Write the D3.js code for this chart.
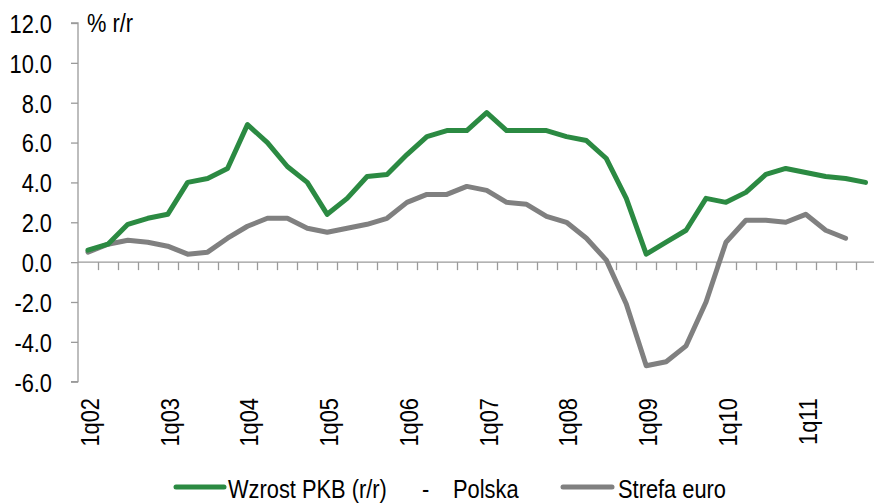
<!DOCTYPE html>
<html>
<head>
<meta charset="utf-8">
<script src="https://cdn.jsdelivr.net/npm/d3@7"></script>
<style>
  html, body { margin: 0; padding: 0; background: #fff; }
  svg { display: block; }
  text { font-family: "Liberation Sans", Arial, sans-serif; fill: #000; font-size: 26px; }
</style>
</head>
<body>
<svg id="chart" width="874" height="503"></svg>
<script>
// kwartały 1q02 .. 4q11
const quarters = [
  "1q02","2q02","3q02","4q02","1q03","2q03","3q03","4q03",
  "1q04","2q04","3q04","4q04","1q05","2q05","3q05","4q05",
  "1q06","2q06","3q06","4q06","1q07","2q07","3q07","4q07",
  "1q08","2q08","3q08","4q08","1q09","2q09","3q09","4q09",
  "1q10","2q10","3q10","4q10","1q11","2q11","3q11","4q11"
];
const labeledQuarters = ["1q02","1q03","1q04","1q05","1q06","1q07","1q08","1q09","1q10","1q11"];
const yTicks = [-6, -4, -2, 0, 2, 4, 6, 8, 10, 12];

// Wzrost PKB (r/r) - Polska
const polska = [
  0.6, 0.9, 1.9, 2.2, 2.4, 4.0, 4.2, 4.7,
  6.9, 6.0, 4.8, 4.0, 2.4, 3.2, 4.3, 4.4,
  5.4, 6.3, 6.6, 6.6, 7.5, 6.6, 6.6, 6.6,
  6.3, 6.1, 5.2, 3.2, 0.4, 1.0, 1.6, 3.2,
  3.0, 3.5, 4.4, 4.7, 4.5, 4.3, 4.2, 4.0
];
// Strefa euro (do 3q11)
const strefaEuro = [
  0.5, 0.9, 1.1, 1.0, 0.8, 0.4, 0.5, 1.2,
  1.8, 2.2, 2.2, 1.7, 1.5, 1.7, 1.9, 2.2,
  3.0, 3.4, 3.4, 3.8, 3.6, 3.0, 2.9, 2.3,
  2.0, 1.2, 0.1, -2.1, -5.2, -5.0, -4.2, -2.0,
  1.0, 2.1, 2.1, 2.0, 2.4, 1.6, 1.2
];

const green = "#2b8a42", grey = "#808080", axisCol = "#9a9a9a";
const narrow = " scale(0.84,1)"; // brak Arial Narrow - zwężamy ręcznie
const svg = d3.select("#chart");

const x = d3.scaleBand().domain(quarters).range([78, 875.5]);
const y = d3.scaleLinear().domain([-6, 12]).range([381.7, 23]);

// oś Y
const yAxis = svg.append("g")
  .attr("transform", "translate(78,0)")
  .call(d3.axisLeft(y).tickValues(yTicks).tickSize(7).tickPadding(0).tickFormat(d3.format(".1f")));
yAxis.attr("font-family", null).attr("font-size", null);
yAxis.select(".domain").attr("stroke", axisCol).attr("stroke-width", 1.3).attr("d", "M-7," + y(-6) + "H0V" + y(12) + "H-7");
yAxis.selectAll(".tick line").attr("stroke", axisCol).attr("stroke-width", 1.3);
yAxis.selectAll(".tick text")
  .attr("x", 0).attr("dy", "0.36em")
  .attr("transform", "translate(-26,0)" + narrow)
  .attr("fill", "#000")
  .text(d => d3.format(".1f")(d).replace("−", "-"));

svg.append("text").attr("transform", "translate(87,32)" + narrow).text("% r/r");

// oś X na poziomie zera
const gx = svg.append("g").attr("transform", "translate(0," + y(0) + ")");
gx.append("line").attr("x1", 78).attr("x2", 874).attr("y1", 0).attr("y2", 0)
  .attr("stroke", axisCol).attr("stroke-width", 1.3);
gx.selectAll("line.tk").data(quarters.slice(1)).enter().append("line")
  .attr("class", "tk")
  .attr("x1", d => Math.round(x(d)) + 0.5).attr("x2", d => Math.round(x(d)) + 0.5)
  .attr("y1", 0).attr("y2", 8)
  .attr("stroke", axisCol).attr("stroke-width", 1.3);

// etykiety kwartałów
svg.selectAll("text.xl").data(labeledQuarters).enter().append("text")
  .attr("class", "xl")
  .attr("transform", d => "translate(" + (x(d) + x.bandwidth() / 2 + 11) + ",398) rotate(-90)" + narrow)
  .attr("text-anchor", "end")
  .text(d => d);

// linie
const line = d3.line()
  .x((d, i) => x(quarters[i]) + x.bandwidth() / 2)
  .y(d => y(d));

svg.append("path").datum(strefaEuro)
  .attr("fill", "none").attr("stroke", grey).attr("stroke-width", 5)
  .attr("stroke-linejoin", "round").attr("stroke-linecap", "round")
  .attr("d", line);

svg.append("path").datum(polska)
  .attr("fill", "none").attr("stroke", green).attr("stroke-width", 5)
  .attr("stroke-linejoin", "round").attr("stroke-linecap", "round")
  .attr("d", line);

// legenda
const lg = svg.append("g");
lg.append("line").attr("x1", 176).attr("x2", 224).attr("y1", 487).attr("y2", 487)
  .attr("stroke", green).attr("stroke-width", 5).attr("stroke-linecap", "round");
lg.append("text").attr("transform", "translate(228,498)" + narrow).text("Wzrost PKB (r/r)");
lg.append("text").attr("transform", "translate(422,498)" + narrow).text("-");
lg.append("text").attr("transform", "translate(453,498)" + narrow).text("Polska");
lg.append("line").attr("x1", 563).attr("x2", 612).attr("y1", 487).attr("y2", 487)
  .attr("stroke", grey).attr("stroke-width", 5).attr("stroke-linecap", "round");
lg.append("text").attr("transform", "translate(618,498)" + narrow).text("Strefa euro");
</script>
</body>
</html>
